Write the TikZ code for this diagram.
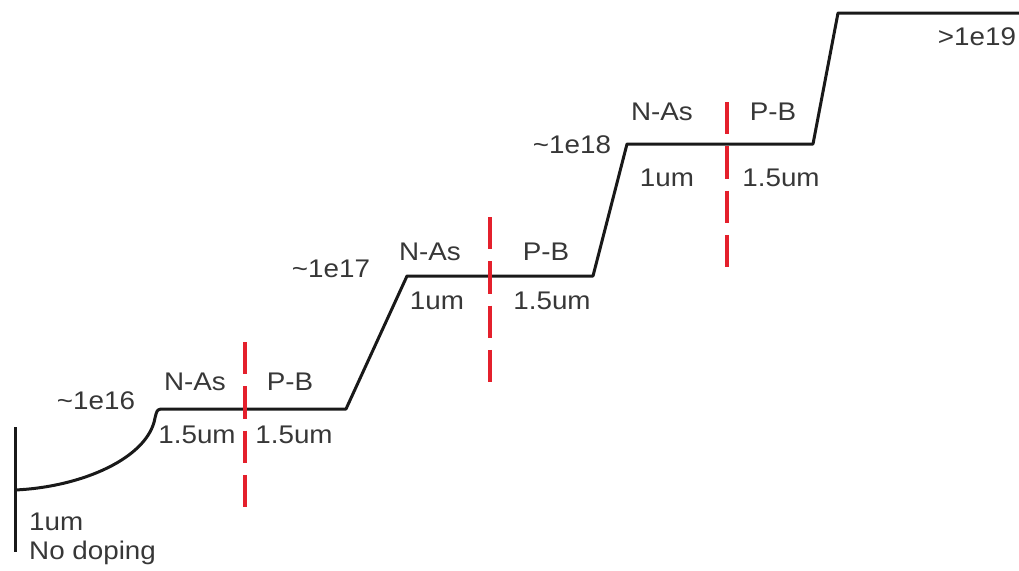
\documentclass[tikz,border=0pt]{standalone}
\usepackage{fontspec}
\setmainfont{Liberation Sans}[FakeStretch=1.09]
\definecolor{txt}{RGB}{55,55,55}
\definecolor{cut}{RGB}{228,32,44}
\tikzset{
  lbl/.style={inner sep=0pt, text=txt, font=\fontsize{25.5}{28}\selectfont},
  profile/.style={line width=3pt, line join=round, draw=black!90},
  junction/.style={line width=3.4pt, draw=cut, dash pattern=on 32.3pt off 12pt}
}
\begin{document}
\begin{tikzpicture}[x=1pt,y=-1pt]
\useasboundingbox (0,0) rectangle (1019,570);
% profile coordinates
\coordinate (bt) at (15,427);
\coordinate (bb) at (15,552);
\coordinate (c0) at (15,490);
\coordinate (c1) at (155,418);
\coordinate (l1a) at (161,409);
\coordinate (l1b) at (346,409);
\coordinate (l2a) at (407,276);
\coordinate (l2b) at (593,276);
\coordinate (l3a) at (627,144);
\coordinate (l3b) at (813,144);
\coordinate (l4a) at (838,13);
\coordinate (l4b) at (1019,13);
\draw[profile] (bt) -- (bb);
\draw[profile] (c0) .. controls (82,487) and (148,458) .. (c1)
  .. controls (157,410) .. (l1a) -- (l1b) -- (l2a) -- (l2b) -- (l3a) -- (l3b) -- (l4a) -- (l4b);
% junction markers
\coordinate (j1t) at (245,342); \coordinate (j1b) at (245,507);
\coordinate (j2t) at (490,217); \coordinate (j2b) at (490,382);
\coordinate (j3t) at (727,102); \coordinate (j3b) at (727,267);
\draw[junction] (j1t) -- (j1b);
\draw[junction] (j2t) -- (j2b);
\draw[junction] (j3t) -- (j3b);
% labels
\node[lbl] (d16) at (96,401) {\textasciitilde1e16};
\node[lbl] (n1) at (195,382) {N-As};
\node[lbl] (p1) at (290,382) {P-B};
\node[lbl] (w1a) at (197,435) {1.5um};
\node[lbl] (w1b) at (294,435) {1.5um};
\node[lbl, anchor=west] (u0) at (29,522) {1um};
\node[lbl, anchor=west] (nd) at (29,553) {No doping};
\node[lbl] (d17) at (331,269) {\textasciitilde1e17};
\node[lbl] (n2) at (430,252) {N-As};
\node[lbl] (p2) at (546,252) {P-B};
\node[lbl] (w2a) at (437,301) {1um};
\node[lbl] (w2b) at (552,301) {1.5um};
\node[lbl] (d18) at (572,145) {\textasciitilde1e18};
\node[lbl] (n3) at (662,112) {N-As};
\node[lbl] (p3) at (773,112) {P-B};
\node[lbl] (w3a) at (667,178) {1um};
\node[lbl] (w3b) at (781,178) {1.5um};
\node[lbl] (d19) at (977,37) {>1e19};
\end{tikzpicture}
\end{document}
